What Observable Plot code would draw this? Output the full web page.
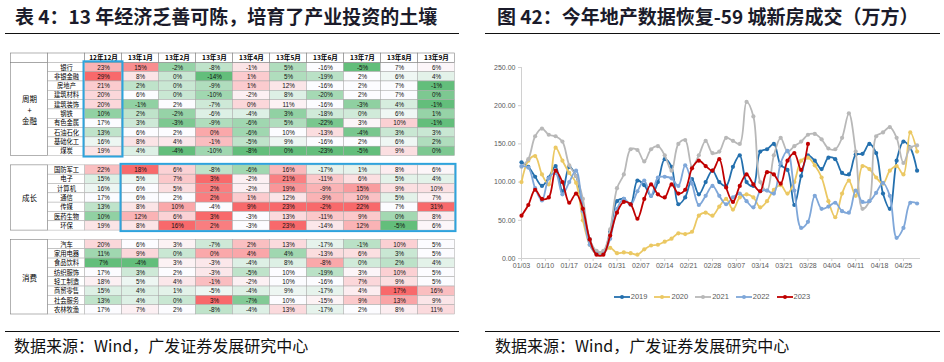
<!DOCTYPE html>
<html lang="zh-CN">
<head>
<meta charset="utf-8">
<script src="https://cdn.jsdelivr.net/npm/d3@7"></script>
<script src="https://cdn.jsdelivr.net/npm/@observablehq/plot@0.6"></script>
<style>
html,body{margin:0;padding:0;background:#fff;}
#root{position:relative;width:944px;height:362px;overflow:hidden;background:#fff;}
#table,#chart{position:absolute;top:0;}
#table{left:0;}
#chart{left:480px;}
.title{position:absolute;top:5px;font-family:"Noto Sans CJK SC",sans-serif;font-size:19px;font-weight:700;color:#1b1b2a;white-space:nowrap;line-height:22px;}
.rule{position:absolute;height:0;border-top:1.4px solid #111;}
.source{position:absolute;top:335px;font-family:"Noto Sans CJK SC",sans-serif;font-size:16px;color:#111;white-space:nowrap;line-height:20px;}
#legend{position:absolute;left:480px;width:464px;top:292px;display:flex;justify-content:center;gap:7px;font-family:"Liberation Sans",sans-serif;font-size:7.5px;color:#595959;}
.item{display:flex;align-items:center;gap:1px;}
</style>
</head>
<body>
<div id="root">
  <div id="table"></div>
  <div id="chart"></div>
  <div id="legend"></div>
  <div class="title" style="left:15px">表 4：13 年经济乏善可陈，培育了产业投资的土壤</div>
  <div class="rule" style="left:5px;width:454px;top:33px"></div>
  <div class="title" style="left:497px">图 42：今年地产数据恢复-59 城新房成交（万方）</div>
  <div class="rule" style="left:485px;width:455px;top:33px"></div>
  <div class="rule" style="left:5px;width:454px;top:331px"></div>
  <div class="source" style="left:14px">数据来源：Wind，广发证券发展研究中心</div>
  <div class="rule" style="left:485px;width:455px;top:331px"></div>
  <div class="source" style="left:495px">数据来源：Wind，广发证券发展研究中心</div>
</div>
<script>
// ---------------- Table data ----------------
const months = ["12年12月","13年1月","13年2月","13年3月","13年4月","13年5月","13年6月","13年7月","13年8月","13年9月"];
const groupLabels = ["周期\n+\n金融", "成长", "消费"];

const cycNames = ["银行","非银金融","房地产","建筑材料","建筑装饰","钢铁","有色金属","石油石化","基础化工","煤炭"];
const cycValues = [
  [23,15,-2,-8,-1,5,-16,-5,7,6],
  [29,8,0,-14,1,5,-19,2,6,4],
  [21,2,0,-9,1,12,-16,2,7,-1],
  [20,6,0,-10,-2,8,-20,2,7,0],
  [20,-1,2,-7,0,11,-16,-3,4,-1],
  [10,2,-2,-6,-4,3,-18,0,6,1],
  [17,3,-3,-9,-6,5,-22,3,10,-1],
  [13,6,2,0,-6,10,-13,-4,3,3],
  [16,8,4,-1,-5,9,-16,2,6,2],
  [19,4,-4,-10,-8,0,-23,-5,9,0]
];
const growthNames = ["国防军工","电子","计算机","通信","传媒","医药生物","环保"];
const growthValues = [
  [22,18,6,-8,-6,16,-17,1,8,6],
  [15,5,7,3,-2,21,-11,6,5,4],
  [16,6,5,2,-2,19,-9,15,9,10],
  [17,6,2,2,1,12,-9,10,5,7],
  [13,8,10,-4,9,23,-2,22,7,31],
  [10,12,6,3,-3,13,-11,9,0,8],
  [19,8,16,2,-3,23,-14,12,-5,6]
];
const consNames = ["汽车","家用电器","食品饮料","纺织服饰","轻工制造","商贸零售","社会服务","农林牧渔"];
const consValues = [
  [20,6,3,-7,2,13,-17,-1,10,5],
  [11,9,0,0,4,4,-13,6,3,5],
  [7,-4,3,-3,-4,8,-8,0,2,4],
  [17,3,2,-3,-5,10,-19,3,10,5],
  [18,5,4,-1,-2,10,-16,7,9,5],
  [15,4,1,-5,-4,9,-17,4,17,16],
  [13,4,0,3,-7,10,-15,9,13,9],
  [17,7,2,-8,-4,13,-17,2,8,11]
];

// ---------------- Line chart data ----------------
const dates = ["01/03","01/05","01/07","01/09","01/11","01/13","01/15","01/17","01/19","01/21","01/23","01/25","01/27","01/29","01/31",
  "02/02","02/04","02/06","02/08","02/10","02/12","02/14","02/16","02/18","02/20","02/22","02/24","02/26","02/28",
  "03/02","03/04","03/06","03/08","03/10","03/12","03/14","03/16","03/18","03/20","03/22","03/24","03/26","03/28","03/30",
  "04/01","04/03","04/05","04/07","04/09","04/11","04/13","04/15","04/17","04/19","04/21","04/23","04/25","04/27","04/29"];
const xTickLabels = ["01/03","01/10","01/17","01/24","01/31","02/07","02/14","02/21","02/28","03/07","03/14","03/21","03/28","04/04","04/11","04/18","04/25"];
const yTicks = [0,50,100,150,200,250];
const seriesNames = ["2019","2020","2021","2022","2023"];
const v2019 = [126,120,107,95,106,121,88,120,108,66,25,8,8,35,75,78,71,102,96,82,100,130,120,71,80,104,84,100,115,100,95,120,135,100,95,140,143,150,122,116,70,108,135,128,117,132,130,112,110,136,137,150,138,85,65,128,153,145,115];
const v2020 = [100,128,134,110,97,145,128,112,99,50,18,6,8,14,7,8,7,5,12,17,18,22,26,33,32,35,56,60,56,68,78,64,80,84,80,67,75,90,96,85,100,128,132,122,106,75,54,85,102,82,121,117,106,98,115,121,110,165,140];
const v2021 = [120,130,160,170,162,160,153,122,108,78,25,10,10,38,92,110,143,142,127,143,147,135,115,150,155,120,135,154,138,140,158,154,150,205,186,100,89,135,158,140,147,153,162,163,156,144,143,158,190,140,65,75,160,165,172,158,125,145,148];
const v2022 = [121,119,92,76,105,112,84,100,115,62,18,6,6,26,65,78,70,88,102,82,106,107,105,95,122,98,70,82,95,82,71,80,85,75,67,88,89,85,125,141,89,40,48,82,65,68,73,62,60,89,74,75,86,99,82,27,40,73,72];
const v2023 = [56,70,90,78,80,115,100,73,85,65,25,5,5,30,60,74,71,52,78,97,84,80,97,85,90,118,128,121,115,130,93,74,95,110,97,88,113,110,98,128,138,116,150];
const seriesColors = ["#2470ae","#ebc863","#b8b8b8","#7fa7d9","#c00000"];

// ---------------- Build table ----------------
const sections = [
  {label: groupLabels[0], names: cycNames, values: cycValues},
  {label: groupLabels[1], names: growthNames, values: growthValues},
  {label: groupLabels[2], names: consNames, values: consValues}
];
const cells = [], nameCells = [], groupCells = [], rowOf = {};
let r = 1; // row 0 = header
sections.forEach((s, si) => {
  if (si > 0) r++; // spacer row
  const start = r;
  s.names.forEach((n, i) => {
    rowOf[n] = r;
    nameCells.push({name: n, row: r});
    s.values[i].forEach((v, j) => cells.push({row: r, col: j + 2, value: v}));
    r++;
  });
  groupCells.push({label: s.label, y1: start, y2: r});
});
const nRows = r;
months.forEach((m, j) => {
  const col = cells.filter(c => c.col === j + 2);
  const vals = col.map(c => c.value).sort(d3.ascending);
  const mn = vals[0], mx = vals[vals.length - 1], md = d3.quantileSorted(vals, 0.5);
  col.forEach(c => {
    c.t = c.value >= md ? (mx === md ? 0 : (c.value - md) / (mx - md)) : (c.value - md) / (md - mn);
  });
});
const headerCells = [{label: "", col: 0}, {label: "", col: 1}, ...months.map((m, j) => ({label: m, col: j + 2}))];
const boxes = [
  {x1: 2, x2: 3, y1: rowOf[cycNames[0]], y2: rowOf[cycNames[cycNames.length - 1]] + 1},
  {x1: 3, x2: 12, y1: rowOf[growthNames[0]], y2: rowOf[growthNames[growthNames.length - 1]] + 1}
];
const cjk = "'Noto Sans CJK SC', sans-serif";

const table = Plot.plot({
  width: 470, height: 362, margin: 0,
  style: {background: "transparent", fontFamily: "'Liberation Sans', sans-serif", overflow: "visible"},
  x: {type: "linear", domain: [0, 12], range: [10.5, 454.5], axis: null},
  y: {type: "linear", domain: [0, nRows], range: [53, 314], axis: null},
  color: {type: "linear", domain: [-1, 0, 1], range: ["#63BE7B", "#FCFCFF", "#F8696B"], interpolate: "rgb"},
  marks: [
    Plot.rect(cells, {x1: "col", x2: d => d.col + 1, y1: "row", y2: d => d.row + 1, fill: "t", stroke: "#a8a8a8", strokeWidth: 0.5}),
    Plot.text(cells, {x: d => d.col + 0.5, y: d => d.row + 0.5, text: d => d.value + "%", fontSize: 6.3, fill: "#111"}),
    Plot.rect(headerCells, {x1: "col", x2: d => d.col + 1, y1: 0, y2: 1, fill: "white", stroke: "#7f7f7f", strokeWidth: 0.6}),
    Plot.text(headerCells, {x: d => d.col + 0.5, y: 0.5, text: "label", fontSize: 6.6, fontWeight: "bold", fontFamily: cjk, fill: "#000"}),
    Plot.rect(nameCells, {x1: 1, x2: 2, y1: "row", y2: d => d.row + 1, fill: "white", stroke: "#a8a8a8", strokeWidth: 0.5}),
    Plot.text(nameCells, {x: 1.5, y: d => d.row + 0.5, text: "name", fontSize: 6.3, fontFamily: cjk, fill: "#000"}),
    Plot.rect(groupCells, {x1: 0, x2: 1, y1: "y1", y2: "y2", fill: "white", stroke: "#7f7f7f", strokeWidth: 0.6}),
    Plot.text(groupCells, {x: 0.5, y: d => (d.y1 + d.y2) / 2, text: "label", fontSize: 7.5, lineHeight: 1.45, fontFamily: cjk, fill: "#000"}),
    Plot.rect(boxes, {x1: "x1", x2: "x2", y1: "y1", y2: "y2", fill: "none", stroke: "#2ea3dd", strokeWidth: 2, inset: -1})
  ]
});
document.getElementById("table").append(table);

// ---------------- Build line chart ----------------
const parseMD = s => new Date(Date.UTC(2023, +s.slice(0, 2) - 1, +s.slice(3, 5)));
const seriesValues = [v2019, v2020, v2021, v2022, v2023];
const series = seriesNames.map((name, k) => ({
  name,
  points: seriesValues[k].map((v, i) => ({series: name, date: parseMD(dates[i]), value: v}))
}));

const chart = Plot.plot({
  width: 464, height: 280,
  marginLeft: 41, marginRight: 24, marginTop: 67, marginBottom: 22,
  style: {background: "transparent", fontFamily: "'Liberation Sans', sans-serif", overflow: "visible"},
  x: {type: "utc", domain: [parseMD("01/03"), parseMD("04/30")]},
  y: {domain: [0, 250]},
  color: {domain: seriesNames, range: seriesColors},
  marks: [
    Plot.ruleY([0], {stroke: "#d0d0d0"}),
    Plot.ruleX([parseMD("01/03")], {stroke: "#d0d0d0"}),
    Plot.axisY(yTicks, {tickFormat: d3.format(".2f"), tickSize: 3, tickPadding: 3, stroke: "#d0d0d0", fill: "#595959", fontSize: 7, label: null}),
    Plot.axisX(xTickLabels.map(parseMD), {tickFormat: d3.utcFormat("%m/%d"), tickSize: 3, tickPadding: 2, stroke: "#d0d0d0", fill: "#595959", fontSize: 7, label: null}),
    ...series.flatMap(s => [
      Plot.line(s.points, {x: "date", y: "value", stroke: "series", strokeWidth: 1.8, curve: "catmull-rom"}),
      Plot.dot(s.points, {x: "date", y: "value", fill: "series", r: 2.1})
    ])
  ]
});
document.getElementById("chart").append(chart);

// ---------------- Legend ----------------
const legend = document.getElementById("legend");
seriesNames.forEach((name, k) => {
  const item = document.createElement("div");
  item.className = "item";
  const c = seriesColors[k];
  item.innerHTML = `<svg width="16" height="6"><line x1="0" x2="16" y1="3" y2="3" stroke="${c}" stroke-width="1.8"/><circle cx="8" cy="3" r="2" fill="${c}"/></svg><span>${name}</span>`;
  legend.append(item);
});
</script>
</body>
</html>
